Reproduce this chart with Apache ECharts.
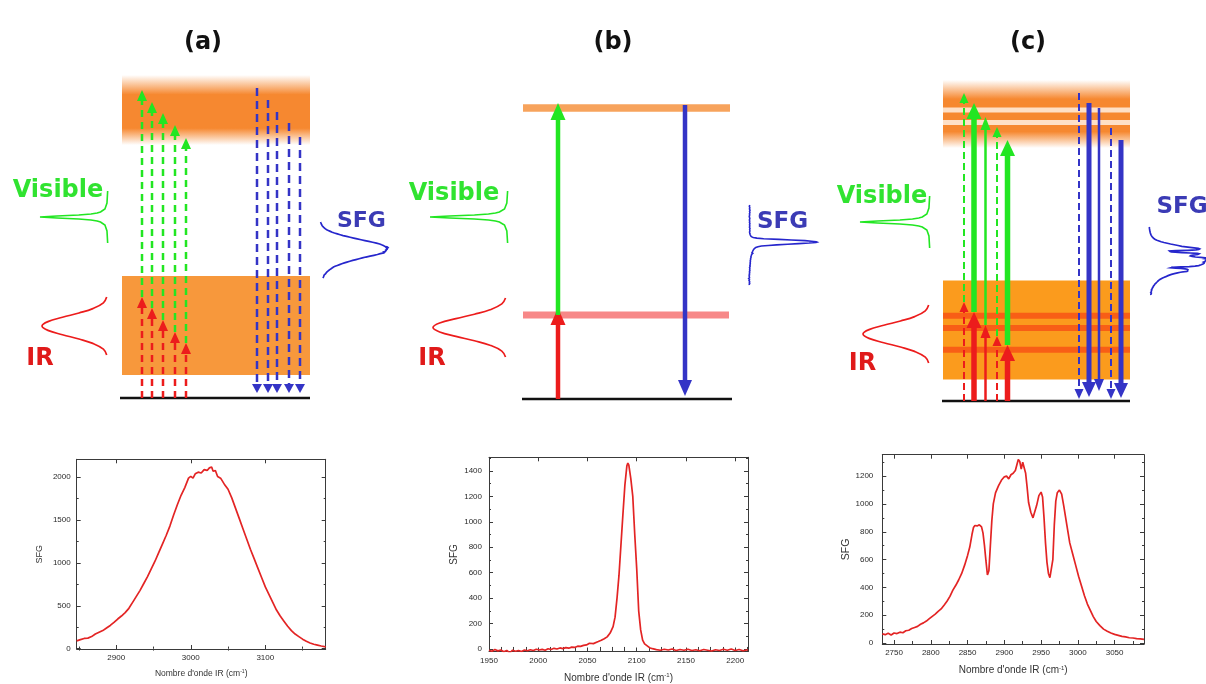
<!DOCTYPE html>
<html><head><meta charset="utf-8">
<script src="https://cdn.jsdelivr.net/npm/echarts@6/dist/echarts.min.js"></script>
<style>html,body{margin:0;padding:0;background:#fff}#chart{width:1206px;height:684px}</style>
</head><body><div id="chart"></div>
<script>
// ================= Spectra =================
const specA_wn = [2847,2852,2857,2862,2867,2872,2877,2882,2887,2892,2897,2902,2907,2912,2917,2922,2927,2932,2937,2942,2947,2952,2957,2962,2967,2972,2977,2982,2987,2992,2997,3000,3003,3006,3010,3014,3018,3022,3025,3028,3030,3033,3036,3040,3045,3050,3055,3060,3065,3070,3075,3080,3085,3090,3095,3100,3105,3110,3115,3120,3125,3130,3135,3140,3145,3150,3155,3160,3165,3170,3175,3181];
const specA_sfg = [90,105,118,122,140,170,190,210,240,270,305,345,380,420,470,540,610,680,760,840,930,1020,1120,1220,1320,1430,1560,1680,1790,1880,1990,2010,1990,2040,2060,2050,2090,2080,2110,2120,2070,2080,2010,1990,1920,1860,1760,1640,1520,1400,1280,1160,1050,940,830,720,630,540,450,380,320,260,210,170,140,110,85,65,50,40,30,20];

const specB_wn = [1950,1953,1956,1959,1962,1965,1968,1971,1974,1977,1980,1983,1986,1989,1992,1995,1998,2001,2004,2007,2010,2013,2016,2019,2022,2025,2028,2031,2034,2037,2040,2043,2046,2049,2052,2054,2056,2058,2061,2064,2067,2070,2073,2076,2078,2080,2082,2084,2086,2088,2090,2091,2092,2094,2096,2098,2100,2102,2104,2106,2108,2110,2113,2116,2120,2124,2128,2132,2136,2140,2144,2148,2152,2156,2160,2164,2168,2172,2176,2180,2184,2188,2192,2196,2200,2204,2208,2213];
const specB_sfg = [-10,-18,-5,-15,-8,-22,-12,-30,-10,-18,-12,-20,-8,-14,-6,-12,-2,-8,-3,-10,2,-4,5,0,8,3,10,6,14,12,22,20,28,32,45,60,42,50,58,68,80,95,125,175,250,400,580,820,1060,1290,1440,1462,1445,1340,1200,900,630,300,150,70,40,25,10,2,-5,-10,-2,-8,0,-12,-4,-10,-2,-12,-6,-14,-4,-10,-16,-6,-12,-2,-10,0,-12,-4,-14,-6];

const specC_wn = [2734,2738,2742,2746,2750,2754,2758,2762,2766,2770,2774,2778,2782,2786,2790,2794,2798,2802,2806,2810,2814,2818,2822,2826,2830,2834,2838,2842,2846,2850,2853,2856,2858,2860,2863,2866,2869,2871,2873,2875,2877,2879,2881,2883,2885,2888,2892,2896,2900,2903,2906,2909,2912,2915,2917,2919,2921,2923,2925,2927,2929,2931,2933,2936,2939,2941,2944,2947,2950,2952,2954,2956,2958,2960,2962,2964,2966,2968,2970,2972,2975,2978,2981,2985,2989,2993,2997,3001,3005,3009,3013,3017,3021,3025,3030,3035,3040,3045,3050,3055,3060,3065,3070,3075,3080,3085,3090];
const specC_sfg = [66,60,70,58,72,68,78,74,88,92,104,112,120,135,145,158,175,192,208,228,245,272,300,335,380,415,455,500,560,630,690,780,830,845,842,850,835,790,700,590,490,520,700,880,1000,1080,1130,1170,1195,1200,1180,1210,1220,1240,1280,1320,1305,1250,1300,1290,1220,1120,1010,940,900,910,990,1060,1085,1050,900,720,580,500,470,460,600,850,1020,1080,1100,1070,980,850,720,640,560,480,410,340,280,235,190,155,125,100,85,72,62,55,48,44,38,36,32,30,26];

// Tick values
const specA_xMajor = [2900,3000,3100];
const specA_xMinor = [2850,2950,3050,3150];
const specA_yMajor = [0,500,1000,1500,2000];
const specA_yMinor = [250,750,1250,1750];
const specB_xMajor = [1950,2000,2050,2100,2150,2200];
const specB_xMinor = [1962.5,1975,1987.5,2012.5,2025,2037.5,2062.5,2075,2087.5,2112.5,2125,2137.5,2162.5,2175,2187.5,2212.5];
const specB_yMajor = [0,200,400,600,800,1000,1200,1400];
const specB_yMinor = [100,300,500,700,900,1100,1300,1500];
const specC_xMajor = [2750,2800,2850,2900,2950,3000,3050];
const specC_xMinor = [2775,2825,2875,2925,2975,3025,3075];
const specC_yMajor = [0,200,400,600,800,1000,1200];
const specC_yMinor = [100,300,500,700,900,1100,1300];

// ================= Energy-level diagrams (x along the level, e = energy above ground) =================
// (a) broad-band, non-resonant
const aLowerBand = [23, 122];
const aUpperBand = [253, 323];
const aPumpX  = [22, 32, 43, 55, 66];
const aIrTop  = [101, 90, 78, 66, 55];
const aVisTop = [308, 296, 285, 273, 260];
const aSfgX   = [137, 148, 157, 169, 180];
const aSfgTop = [310, 298, 286, 275, 261];
const aSfgEnd = [5, 5, 5, 5, 5];
// (b) single resonance
const bUpperLevel = 291;
const bVibLevel = 84;
const bPumpX = 36, bIrTop = 91, bVisTop = 296;
const bSfgX = 163, bSfgTop = 294, bSfgEnd = 3;
// (c) several resonances inside a non-resonant continuum
const cLowerBand = [21.5, 120.5];
const cVibLevels = [85.3, 73, 51.3];
const cUpperBand = [253, 321];
const cElecLevels = [291, 278.5];
const cPumpX  = [21, 31, 42.5, 54, 64.5];
const cIrTop  = [99, 89, 76, 65, 56];
const cVisTop = [308, 298, 284, 274, 261];
const cPumpKind = [0, 2, 1, 0, 2];      // 0 non-resonant, 1 weak, 2 strong
const cSfgX   = [136, 146, 156, 168, 178];
const cSfgTop = [308, 298, 293, 273, 261];
const cSfgEnd = [2, 4, 10, 2, 3];
const cSfgKind = [0, 2, 1, 0, 2];

// Pulse profiles (schematic)
const irPulseT   = [-1,-0.8,-0.6,-0.45,-0.3,-0.15,0,0.15,0.3,0.45,0.6,0.8,1];
const irPulseAmp = [0.02,0.07,0.23,0.44,0.69,0.91,1,0.91,0.69,0.44,0.23,0.07,0.02];
const visPulseT   = [26,14,8,5,4,3,2,1,0,-1,-2,-3,-4,-5,-8,-14,-26];
const visPulseAmp = [0.005,0.015,0.045,0.11,0.16,0.25,0.43,0.75,1,0.75,0.43,0.25,0.16,0.11,0.045,0.015,0.005];

// ================= Rendering =================
const chart = echarts.init(document.getElementById('chart'), null, {renderer:'canvas'});
const DIAG_FONT = '"DejaVu Sans", Verdana, sans-serif';
const AX_FONT = '"Liberation Sans", Arial, sans-serif';
const COL = {green:'#22e622', red:'#ec1c1c', blue:'#3434c6', visText:'#30e330', irText:'#e01a1a', sfgText:'#3b3bb5',
  sfgCurve:'#2626cc', orangeA:'#f7983c', orangeC:'#fb9b1d', stripe:'#f85e16', level:'#f7a35c', pink:'#f78888', ground:'#111'};
const ST = {
  dashA:{w:2.5, hw:10, hh:11, dash:[7,5]},
  dashAblue:{w:2.5, hw:10, hh:9, dash:[8,5]},
  solidB:{w:4.5, hw:15, hh:17},
  solidBblue:{w:4.5, hw:14, hh:16},
  pump:[{w:2, hw:9, hh:10, dash:[7,4]}, {w:2.5, hw:10, hh:13}, {w:5.5, hw:15, hh:16}],
  sfg:[{w:2, hw:9, hh:10, dash:[7,4]}, {w:2.5, hw:10, hh:12}, {w:5, hw:14, hh:15}]
};

const grids = [], xAxes = [], yAxes = [], series = [];

function fadeFill(rgb) {
  return new echarts.graphic.LinearGradient(0,0,0,1,[
    {offset:0,color:'rgba('+rgb+',0)'},{offset:0.28,color:'rgba('+rgb+',1)'},
    {offset:0.76,color:'rgba('+rgb+',1)'},{offset:1,color:'rgba('+rgb+',0)'}]);
}

function renderEl(el, api) {
  if (el.k === 'rect') {
    const a = api.coord([el.x0, el.e1]), b = api.coord([el.x1, el.e0]);
    return {type:'rect', shape:{x:a[0], y:a[1], width:b[0]-a[0], height:b[1]-a[1]}, style:{fill:el.fill}};
  }
  if (el.k === 'hline') {
    const a = api.coord([el.x0, el.e]), b = api.coord([el.x1, el.e]);
    return {type:'line', shape:{x1:a[0], y1:a[1], x2:b[0], y2:b[1]}, style:{stroke:el.color, lineWidth:el.width}};
  }
  if (el.k === 'arrow') {
    const p0 = api.coord([el.x, el.e0]), p1 = api.coord([el.x, el.e1]);
    const dir = p1[1] > p0[1] ? 1 : -1;
    const by = p1[1] - dir * el.s.hh;
    const ls = {stroke:el.color, lineWidth:el.s.w};
    if (el.s.dash) ls.lineDash = el.s.dash;
    return {type:'group', children:[
      {type:'line', shape:{x1:p0[0], y1:p0[1], x2:p1[0], y2:by + dir}, style:ls},
      {type:'polygon', shape:{points:[[p1[0],p1[1]],[p1[0]-el.s.hw/2,by],[p1[0]+el.s.hw/2,by]]}, style:{fill:el.color}}
    ]};
  }
  if (el.k === 'poly') {
    return {type:'polyline', shape:{points:el.pts.map(p => api.coord(p)), smooth:el.smooth || 0},
      style:{stroke:el.color, lineWidth:el.width, fill:null}};
  }
  if (el.k === 'text') {
    const p = api.coord([el.x, el.e]);
    return {type:'text', x:p[0], y:p[1], style:{text:el.text, fill:el.color, fontSize:el.size, fontWeight:'bold',
      fontFamily:DIAG_FONT, align:el.align || 'center', verticalAlign:'middle'}};
  }
}

function addDiagram(cfg, els) {
  const gi = grids.length;
  grids.push({left:cfg.left, top:cfg.ground - 370, width:cfg.width, height:400});
  const xi = xAxes.length, yi = yAxes.length;
  xAxes.push({gridIndex:gi, type:'value', min:cfg.xmin, max:cfg.xmin + cfg.width, show:false});
  yAxes.push({gridIndex:gi, type:'value', min:-30, max:370, show:false});
  series.push({type:'custom', xAxisIndex:xi, yAxisIndex:yi, silent:true, clip:false,
    data:els.map((_, i) => [0, 0, i]), renderItem:(params, api) => renderEl(els[params.dataIndex], api)});
}

function irPulse(base, center, half, amp) { return irPulseT.map((t, i) => [base - irPulseAmp[i] * amp, center + t * half]); }
function visPulse(base, center, amp) { return visPulseT.map((t, i) => [base - visPulseAmp[i] * amp, center + t]); }
function sfgInset(wn, sfg, base, eBot, eTop, maxAmp) {
  const w0 = wn[0], w1 = wn[wn.length - 1], peak = Math.max.apply(null, sfg);
  return wn.map((w, i) => [base + sfg[i] / peak * maxAmp, eBot + (w - w0) / (w1 - w0) * (eTop - eBot)]);
}
function title(x, e, t) { return {k:'text', x:x, e:e, text:t, color:'#111', size:24}; }

// ---- panel (a)
const elsA = [
  {k:'rect', x0:2, x1:190, e0:aLowerBand[0], e1:aLowerBand[1], fill:COL.orangeA},
  {k:'rect', x0:2, x1:190, e0:aUpperBand[0], e1:aUpperBand[1], fill:fadeFill('246,136,48')},
  {k:'hline', x0:0, x1:190, e:0, color:COL.ground, width:2.5}
];
aPumpX.forEach((x, i) => {
  elsA.push({k:'arrow', x:x, e0:0, e1:aIrTop[i], color:COL.red, s:ST.dashA});
  elsA.push({k:'arrow', x:x, e0:aIrTop[i], e1:aVisTop[i], color:COL.green, s:ST.dashA});
});
aSfgX.forEach((x, i) => elsA.push({k:'arrow', x:x, e0:aSfgTop[i], e1:aSfgEnd[i], color:COL.blue, s:ST.dashAblue}));
elsA.push(
  {k:'poly', pts:visPulse(-12, 181, 68), color:COL.green, width:1.6},
  {k:'poly', pts:irPulse(-12, 72, 29, 66), color:COL.red, width:1.7, smooth:0.4},
  {k:'poly', pts:sfgInset(specA_wn, specA_sfg, 200, 120, 176, 68), color:COL.sfgCurve, width:1.7},
  {k:'text', x:-62, e:207, text:'Visible', color:COL.visText, size:24},
  {k:'text', x:-80, e:39.5, text:'IR', color:COL.irText, size:24},
  {k:'text', x:217, e:177, text:'SFG', color:COL.sfgText, size:22, align:'left'},
  title(83, 355, '(a)')
);
addDiagram({left:0, width:400, xmin:-120, ground:398}, elsA);

// ---- panel (b)
const elsB = [
  {k:'hline', x0:1, x1:208, e:bUpperLevel, color:COL.level, width:7.5},
  {k:'hline', x0:1, x1:207, e:bVibLevel, color:COL.pink, width:7},
  {k:'hline', x0:0, x1:210, e:0, color:COL.ground, width:2.5},
  {k:'arrow', x:bPumpX, e0:0, e1:bIrTop, color:COL.red, s:ST.solidB},
  {k:'arrow', x:bPumpX, e0:bVibLevel, e1:bVisTop, color:COL.green, s:ST.solidB},
  {k:'arrow', x:bSfgX, e0:bSfgTop, e1:bSfgEnd, color:COL.blue, s:ST.solidBblue},
  {k:'poly', pts:visPulse(-14, 182, 78), color:COL.green, width:1.6},
  {k:'poly', pts:irPulse(-15, 71.5, 29.5, 74), color:COL.red, width:1.7, smooth:0.4},
  {k:'poly', pts:sfgInset(specB_wn, specB_sfg, 228, 114, 194, 67), color:COL.sfgCurve, width:1.6},
  {k:'text', x:-68, e:205.5, text:'Visible', color:COL.visText, size:24},
  {k:'text', x:-90, e:40, text:'IR', color:COL.irText, size:24},
  {k:'text', x:235, e:177, text:'SFG', color:COL.sfgText, size:23, align:'left'},
  title(91, 356, '(b)')
];
addDiagram({left:400, width:420, xmin:-122, ground:399}, elsB);

// ---- panel (c)
const elsC = [
  {k:'rect', x0:0, x1:187, e0:cLowerBand[0], e1:cLowerBand[1], fill:COL.orangeC},
  {k:'rect', x0:0, x1:187, e0:cUpperBand[0], e1:cUpperBand[1], fill:fadeFill('246,136,48')}
];
cVibLevels.forEach(e => elsC.push({k:'hline', x0:0, x1:187, e:e, color:COL.stripe, width:6}));
cElecLevels.forEach(e => elsC.push({k:'hline', x0:0, x1:187, e:e, color:'rgba(255,234,216,0.9)', width:5}));
elsC.push({k:'hline', x0:-1, x1:187, e:0, color:COL.ground, width:2.5});
cPumpX.forEach((x, i) => {
  elsC.push({k:'arrow', x:x, e0:0, e1:cIrTop[i], color:COL.red, s:ST.pump[cPumpKind[i]]});
  elsC.push({k:'arrow', x:x, e0:cIrTop[i], e1:cVisTop[i], color:COL.green, s:ST.pump[cPumpKind[i]]});
});
cSfgX.forEach((x, i) => elsC.push({k:'arrow', x:x, e0:cSfgTop[i], e1:cSfgEnd[i], color:COL.blue, s:ST.sfg[cSfgKind[i]]}));
elsC.push(
  {k:'poly', pts:visPulse(-13, 179, 70), color:COL.green, width:1.6},
  {k:'poly', pts:irPulse(-13, 67, 29, 67), color:COL.red, width:1.7, smooth:0.4},
  {k:'poly', pts:sfgInset(specC_wn, specC_sfg, 205, 106, 174, 62), color:COL.sfgCurve, width:1.7},
  {k:'text', x:-61, e:204, text:'Visible', color:COL.visText, size:24},
  {k:'text', x:-80.5, e:37, text:'IR', color:COL.irText, size:24},
  {k:'text', x:213.5, e:193.5, text:'SFG', color:COL.sfgText, size:23, align:'left'},
  title(85, 358, '(c)')
);
addDiagram({left:820, width:386, xmin:-123, ground:401}, elsC);

// ---- spectra
const FRAME = {color:'#3a3a3a', width:1};
function addSpectrum(s) {
  const gi = grids.length;
  grids.push({left:s.left, top:s.top, width:s.width, height:s.height});
  const xi = xAxes.length, yi = yAxes.length;
  const bx = {gridIndex:gi, type:'value', min:s.xmin, max:s.xmax, splitLine:{show:false}};
  const by = {gridIndex:gi, type:'value', min:s.ymin, max:s.ymax, splitLine:{show:false}};
  const lab = (vals, margin) => ({show:true, customValues:vals, formatter:v => String(v), fontSize:8, color:'#2a2a2a', fontFamily:AX_FONT, margin:margin});
  const maj = vals => ({show:true, inside:true, length:4, customValues:vals, lineStyle:FRAME});
  const mnr = vals => ({show:true, inside:true, length:2, customValues:vals, lineStyle:FRAME});
  xAxes.push(Object.assign({}, bx, {position:'bottom', axisLine:{show:true, onZero:false, lineStyle:FRAME},
    axisTick:maj(s.xMajor), axisLabel:lab(s.xMajor, 5),
    name:'Nombre d\'onde IR (cm{sup|-1})', nameLocation:'middle', nameGap:s.xNameGap,
    nameTextStyle:{fontSize:s.nameSize, color:'#333', fontFamily:AX_FONT,
      rich:{sup:{fontSize:s.nameSize*0.6, color:'#333', fontFamily:AX_FONT, verticalAlign:'top', padding:[0,0,s.nameSize*0.5,0]}}}}));
  xAxes.push(Object.assign({}, bx, {position:'bottom', axisLine:{show:false}, axisTick:mnr(s.xMinor), axisLabel:{show:false}}));
  xAxes.push(Object.assign({}, bx, {position:'top', axisLine:{show:true, onZero:false, lineStyle:FRAME}, axisTick:maj(s.xMajor), axisLabel:{show:false}}));
  xAxes.push(Object.assign({}, bx, {position:'top', axisLine:{show:false}, axisTick:mnr(s.xMinor), axisLabel:{show:false}}));
  yAxes.push(Object.assign({}, by, {position:'left', axisLine:{show:true, onZero:false, lineStyle:FRAME},
    axisTick:maj(s.yMajor), axisLabel:lab(s.yMajor, s.yLabMargin),
    name:'SFG', nameLocation:'middle', nameRotate:90, nameGap:s.yNameGap,
    nameTextStyle:{fontSize:s.yNameSize, color:'#333', fontFamily:AX_FONT}}));
  yAxes.push(Object.assign({}, by, {position:'left', axisLine:{show:false}, axisTick:mnr(s.yMinor), axisLabel:{show:false}}));
  yAxes.push(Object.assign({}, by, {position:'right', axisLine:{show:true, onZero:false, lineStyle:FRAME}, axisTick:maj(s.yMajor), axisLabel:{show:false}}));
  yAxes.push(Object.assign({}, by, {position:'right', axisLine:{show:false}, axisTick:mnr(s.yMinor), axisLabel:{show:false}}));
  series.push({type:'line', xAxisIndex:xi, yAxisIndex:yi, data:s.wn.map((w, i) => [w, s.sfg[i]]),
    showSymbol:false, symbol:'none', silent:true, clip:true, lineStyle:{color:'#e32424', width:1.7}});
}
addSpectrum({left:76.7, top:459.3, width:249, height:189.7, xmin:2847, xmax:3181, ymin:-5, ymax:2210,
  xMajor:specA_xMajor, xMinor:specA_xMinor, yMajor:specA_yMajor, yMinor:specA_yMinor,
  wn:specA_wn, sfg:specA_sfg, xNameGap:20, nameSize:8.5, yNameGap:33, yNameSize:9, yLabMargin:6});
addSpectrum({left:489, top:457.3, width:259, height:195.7, xmin:1950, xmax:2213, ymin:-20, ymax:1507,
  xMajor:specB_xMajor, xMinor:specB_xMinor, yMajor:specB_yMajor, yMinor:specB_yMinor,
  wn:specB_wn, sfg:specB_sfg, xNameGap:21, nameSize:10, yNameGap:30, yNameSize:10, yLabMargin:7});
addSpectrum({left:882.3, top:454.7, width:261.7, height:189.3, xmin:2734, xmax:3090, ymin:-7, ymax:1354,
  xMajor:specC_xMajor, xMinor:specC_xMinor, yMajor:specC_yMajor, yMinor:specC_yMinor,
  wn:specC_wn, sfg:specC_sfg, xNameGap:21, nameSize:10, yNameGap:29.5, yNameSize:10.5, yLabMargin:9});

chart.setOption({backgroundColor:'#ffffff', animation:false, grid:grids, xAxis:xAxes, yAxis:yAxes, series:series});
</script></body></html>
